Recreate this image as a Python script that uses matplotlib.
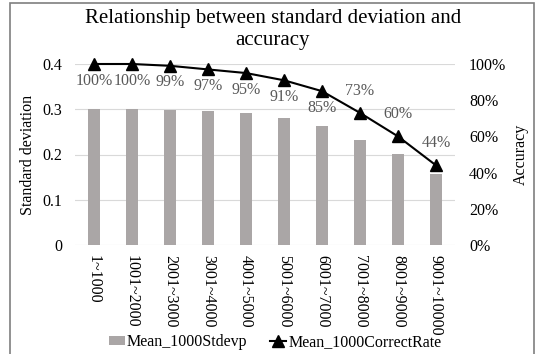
import matplotlib.pyplot as plt
from matplotlib.patches import Rectangle
from matplotlib.ticker import FuncFormatter

plt.rcParams['font.family'] = ['Liberation Serif', 'DejaVu Serif']

ranges = ['1~1000', '1001~2000', '2001~3000', '3001~4000', '4001~5000',
          '5001~6000', '6001~7000', '7001~8000', '8001~9000', '9001~10000']
stdevp = [0.300, 0.300, 0.299, 0.296, 0.291, 0.280, 0.262, 0.232, 0.201, 0.158]
correct = [1.00, 1.00, 0.99, 0.97, 0.95, 0.91, 0.85, 0.73, 0.60, 0.44]
label_above = [False, False, False, False, False, False, False, True, True, True]

fs = 11.5

fig = plt.figure(figsize=(5.37, 3.54), dpi=100)
ax = fig.add_axes([75/537, 1 - 245/354, 380/537, 181/354])
x = list(range(len(ranges)))

bars = ax.bar(x, stdevp, width=0.32, color='#aaa6a6', zorder=2,
              label='Mean_1000Stdevp')
ax.set_ylim(0, 0.4)
ax.set_xlim(-0.5, len(ranges) - 0.5)
ax.set_yticks([0, 0.1, 0.2, 0.3, 0.4])
ax.set_yticklabels(['0', '0.1', '0.2', '0.3', '0.4'])
ax.grid(True, axis='y', color='#d9d9d9', linewidth=0.8, zorder=0)
ax.set_axisbelow(True)
ax.set_xticks(x)
ax.set_xticklabels(ranges, rotation=-90, va='top')
ax.tick_params(axis='both', length=0, labelsize=fs)
ax.tick_params(axis='x', pad=7)
ax.tick_params(axis='y', pad=9)
for s in ax.spines.values():
    s.set_visible(False)
ax.set_ylabel('Standard deviation', fontsize=fs, labelpad=5)

ax2 = ax.twinx()
line, = ax2.plot(x, correct, color='black', linewidth=1.5, marker='^',
                 markersize=9, clip_on=False, zorder=3,
                 label='Mean_1000CorrectRate')
ax2.set_ylim(0, 1.0)
ax2.set_yticks([0, 0.2, 0.4, 0.6, 0.8, 1.0])
ax2.yaxis.set_major_formatter(FuncFormatter(lambda v, p: '{:.0f}%'.format(v * 100)))
ax2.tick_params(axis='y', length=0, labelsize=fs, pad=10)
for s in ax2.spines.values():
    s.set_visible(False)
ax2.set_ylabel('Accuracy', fontsize=fs, labelpad=5)

for xi, v, up in zip(x, correct, label_above):
    off = 16 if up else -12
    ax2.annotate('{:.0f}%'.format(v * 100), (xi, v), xytext=(0, off),
                 textcoords='offset points', ha='center', va='center',
                 fontsize=fs, color='#595959')

fig.suptitle('Relationship between standard deviation and\naccuracy',
             fontsize=15, x=273/537, y=1 - 9/354, va='top', linespacing=1.2)

fig.legend([bars, line], ['Mean_1000Stdevp', 'Mean_1000CorrectRate'],
           loc='center', bbox_to_anchor=(275/537, 1 - 342/354), ncol=2,
           frameon=False, fontsize=fs, handlelength=1.0, handleheight=0.45,
           handletextpad=0.13, columnspacing=1.44, borderpad=0,
           borderaxespad=0)

fig.patches.append(Rectangle((10/537, -0.05), 524/537, 1 - 3/354 + 0.05,
                             transform=fig.transFigure, fill=False,
                             edgecolor='#7f7f7f', linewidth=1.2))

fig.savefig('out.png', dpi=100)
